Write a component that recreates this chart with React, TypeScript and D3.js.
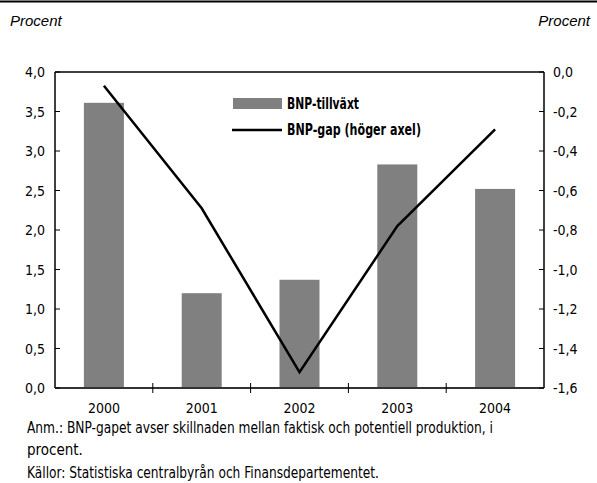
import React from "react";
import * as d3 from "d3";

const years = ["2000", "2001", "2002", "2003", "2004"];
const bnpGrowth = [3.61, 1.2, 1.37, 2.83, 2.52];
const bnpGap = [-0.07, -0.69, -1.52, -0.78, -0.29];
const leftTicks = [0, 0.5, 1, 1.5, 2, 2.5, 3, 3.5, 4];
const rightTicks = [0, -0.2, -0.4, -0.6, -0.8, -1.0, -1.2, -1.4, -1.6];

const W = 597;
const H = 483;
const L = 55;
const R = 544;
const T = 72;
const B = 388;
const FONT = "'Liberation Sans Narrow', 'Arial Narrow', 'DejaVu Sans Condensed', sans-serif";

const fmt = (v: number) => v.toFixed(1).replace(".", ",").replace("-0,0", "0,0");

export default function App() {
  const xb = d3.scaleBand<string>().domain(years).range([L, R]);
  const yL = d3.scaleLinear().domain([0, 4]).range([B, T]);
  const yR = d3.scaleLinear().domain([-1.6, 0]).range([B, T]);
  const cx = (yr: string) => (xb(yr) as number) + xb.bandwidth() / 2;
  const line = d3
    .line<number>()
    .x((_, i) => cx(years[i]))
    .y((d) => yR(d));

  return (
    <svg width={W} height={H} style={{ position: "absolute", left: 0, top: 0, background: "#fff" }} fontFamily={FONT}>
      <rect x={0} y={0} width={W} height={H} fill="#fff" />
      <line x1={0} x2={W} y1={1.5} y2={1.5} stroke="#000" strokeWidth={2} />
      <text x={10} y={26} fontSize={15} fontStyle="italic" fontFamily="'Liberation Sans', Arial, sans-serif">Procent</text>
      <text x={590} y={26} fontSize={15} fontStyle="italic" textAnchor="end" fontFamily="'Liberation Sans', Arial, sans-serif">Procent</text>

      {years.map((yr, i) => (
        <rect
          key={yr}
          x={cx(yr) - 20}
          y={yL(bnpGrowth[i])}
          width={40}
          height={B - yL(bnpGrowth[i])}
          fill="#808080"
        />
      ))}

      {/* frame */}
      <line x1={L} x2={R} y1={T} y2={T} stroke="#000" strokeWidth={1.5} />
      <line x1={L} x2={L} y1={T} y2={B} stroke="#000" strokeWidth={1.5} />
      <line x1={R} x2={R} y1={T} y2={B} stroke="#000" strokeWidth={1.5} />
      <line x1={L} x2={R} y1={B} y2={B} stroke="#333" strokeWidth={2} />

      {leftTicks.map((t) => (
        <g key={"l" + t}>
          <line x1={L} x2={L + 5} y1={yL(t)} y2={yL(t)} stroke="#000" />
          <text x={45} y={yL(t) + 5} fontSize={14} textAnchor="end">{fmt(t)}</text>
        </g>
      ))}
      {rightTicks.map((t) => (
        <g key={"r" + t}>
          <line x1={R - 5} x2={R} y1={yR(t)} y2={yR(t)} stroke="#000" />
          <text x={553} y={yR(t) + 5} fontSize={14}>{fmt(t)}</text>
        </g>
      ))}
      {years.slice(1).map((yr) => (
        <line key={"xt" + yr} x1={xb(yr) as number} x2={xb(yr) as number} y1={B - 5} y2={B + 5} stroke="#000" />
      ))}
      {years.map((yr) => (
        <text key={"xl" + yr} x={cx(yr)} y={413} fontSize={14} textAnchor="middle">{yr}</text>
      ))}

      <path d={line(bnpGap) || ""} fill="none" stroke="#000" strokeWidth={2.5} />

      {/* legend */}
      <rect x={233} y={98} width={49} height={11} fill="#808080" />
      <text x={287} y={109} fontSize={15} fontWeight="bold" textLength={72} lengthAdjust="spacingAndGlyphs">BNP-tillväxt</text>
      <line x1={232} x2={282} y1={130} y2={130} stroke="#000" strokeWidth={2.5} />
      <text x={287} y={135} fontSize={15} fontWeight="bold" textLength={134} lengthAdjust="spacingAndGlyphs">BNP-gap (höger axel)</text>

      <text x={27} y={433} fontSize={15} textLength={466} lengthAdjust="spacingAndGlyphs">Anm.: BNP-gapet avser skillnaden mellan faktisk och potentiell produktion, i</text>
      <text x={27} y={455} fontSize={15}>procent.</text>
      <text x={27} y={478} fontSize={15} textLength={352} lengthAdjust="spacingAndGlyphs">Källor: Statistiska centralbyrån och Finansdepartementet.</text>
    </svg>
  );
}
